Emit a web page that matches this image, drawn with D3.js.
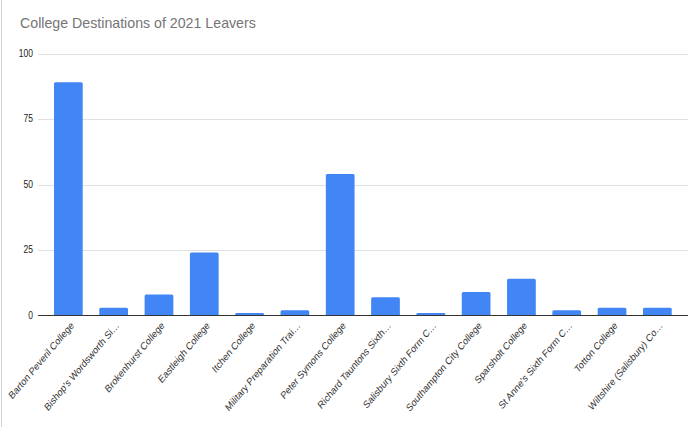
<!DOCTYPE html>
<html><head><meta charset="utf-8">
<script src="https://cdn.jsdelivr.net/npm/d3@7"></script>
<style>
html,body{margin:0;padding:0;background:#fff;}
svg{display:block;font-family:Arial,"Liberation Sans",sans-serif;}
</style></head>
<body>
<svg id="chart" width="690" height="427"></svg>
<script>
const categories = ["Barton Peveril College","Bishop's Wordsworth Si…","Brokenhurst College","Eastleigh College","Itchen College","Military Preparation Trai…","Peter Symons College","Richard Tauntons Sixth…","Salisbury Sixth Form C…","Southampton City College","Sparsholt College","St Anne's Sixth Form C…","Totton College","Wiltshire (Salisbury) Co…"];
const values = [89,3,8,24,1,2,54,7,1,9,14,2,3,3];
const yTicks = [0,25,50,75,100];
const title = "College Destinations of 2021 Leavers";

const svg = d3.select("#chart");
const x = d3.scaleBand().domain(categories).range([45.7,680]).paddingInner(0.366).paddingOuter(0.183);
const y = d3.scaleLinear().domain([0,100]).range([315.5,53.5]);

// left border line
svg.append("line").attr("x1",1.5).attr("x2",1.5).attr("y1",0).attr("y2",427).attr("stroke","#d0d0d0");

svg.append("text").attr("x",20).attr("y",28).attr("fill","#757575").attr("font-size",14.2).text(title);

// gridlines
svg.append("g").selectAll("line").data(yTicks.filter(d=>d>0)).join("line")
  .attr("x1",38).attr("x2",688).attr("y1",d=>Math.round(y(d))+0.5).attr("y2",d=>Math.round(y(d))+0.5)
  .attr("stroke","#e0e0e0").attr("stroke-width",1);

// y labels
svg.append("g").selectAll("text").data(yTicks).join("text")
  .attr("x",33).attr("y",d=>y(d)+3.5).attr("text-anchor","end")
  .attr("font-size",10).attr("fill","#222").attr("transform",`translate(33,0) scale(0.85,1) translate(-33,0)`)
  .text(d=>d);

// bars
svg.append("g").selectAll("path").data(values).join("path")
  .attr("d",(d,i)=>{
    const x0=x(categories[i]), w=x.bandwidth(), y0=y(d), y1=y(0), r=Math.min(1.5,(y1-y0)/2);
    return `M${x0},${y1}V${y0+r}Q${x0},${y0} ${x0+r},${y0}H${x0+w-r}Q${x0+w},${y0} ${x0+w},${y0+r}V${y1}Z`;
  })
  .attr("fill","#4285f4");

// baseline
svg.append("line").attr("x1",38).attr("x2",688).attr("y1",315.5).attr("y2",315.5).attr("stroke","#333").attr("stroke-width",1);

// x labels
svg.append("g").selectAll("text").data(categories).join("text")
  .attr("transform",d=>`translate(${x(d)+x.bandwidth()/2+6},326) scale(0.84,1) rotate(-45)`)
  .attr("text-anchor","end").attr("font-size",10.5).attr("fill","#333")
  .text(d=>d);
</script>
</body></html>
